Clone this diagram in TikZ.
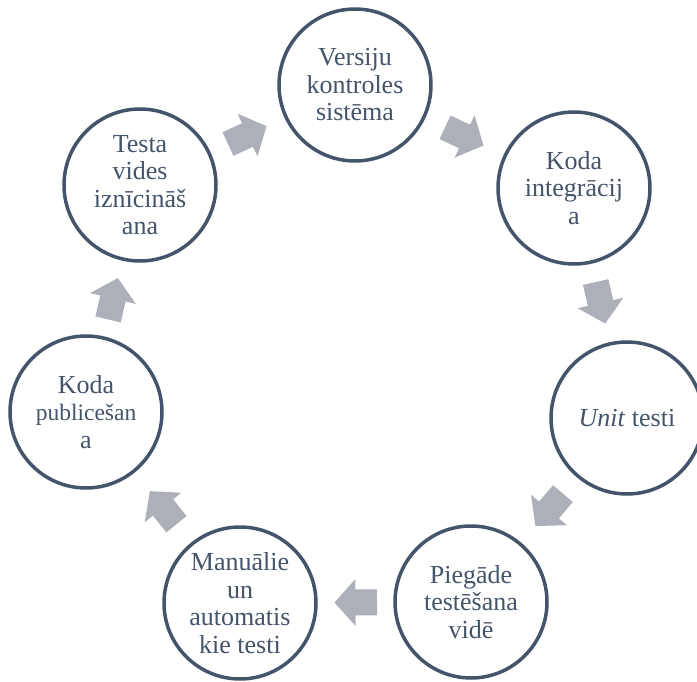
\documentclass[tikz,border=0pt]{standalone}
\usepackage{fontspec}
\setmainfont{Liberation Serif}
\usetikzlibrary{calc}
\definecolor{darkslate}{RGB}{68,84,106}
\definecolor{arrowgray}{RGB}{173,176,184}
\tikzset{
  stage/.style={circle, draw=darkslate, line width=3.5pt, fill=white,
    minimum size=152pt, inner sep=0pt, align=center, text=darkslate,
    font={\fontsize{26}{27.5}\selectfont}},
  cycarrow/.style={fill=arrowgray, draw=none}
}
\begin{document}
\begin{tikzpicture}[x=1pt,y=1pt]
\useasboundingbox (0,0) rectangle (697,-682);
\clip (0,0) rectangle (697,-682);
\node[stage] (n1) at (355,-85) {Versiju\\kontroles\\sistēma};
\node[stage] (n2) at (574,-188) {Koda\\integrācij\\a};
\node[stage] (n3) at (627,-418) {\textit{Unit} testi};
\node[stage] (n4) at (471,-602) {Piegāde\\testēšana\\vidē};
\node[stage] (n5) at (240,-603) {Manuālie\\un\\automatis\\kie testi};
\node[stage] (n6) at (86,-412) {Koda\\{\fontsize{23.5}{27.5}\selectfont publicešan}\\a};
\node[stage] (n7) at (140,-185) {Testa\\vides\\iznīcināš\\ana};
\foreach \a/\b in {n1/n2,n2/n3,n3/n4,n4/n5,n5/n6,n6/n7,n7/n1}{
  \coordinate (m) at ($(\a)!0.5!(\b)$);
  \fill[cycarrow] ($(m)!21pt!(\b)$)
    -- ($(m)!23.5pt!90:(\b)$) -- ($(m)!13pt!90:(\b)$)
    -- ($(m)!25.12pt!148.84:(\b)$) -- ($(m)!25.12pt!-148.84:(\b)$)
    -- ($(m)!13pt!-90:(\b)$) -- ($(m)!23.5pt!-90:(\b)$) -- cycle;
}
\end{tikzpicture}
\end{document}
